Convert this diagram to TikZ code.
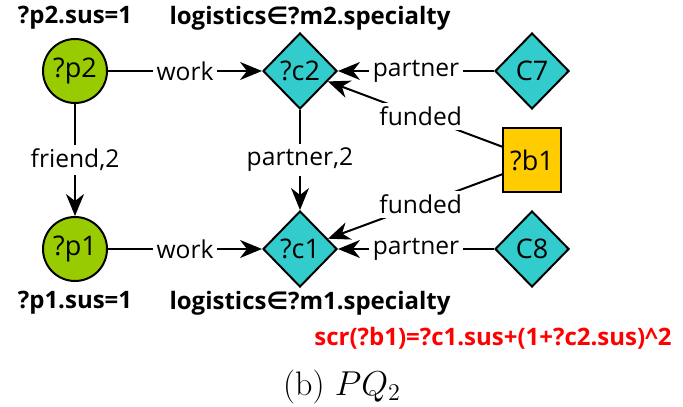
\documentclass[tikz,border=0pt]{standalone}
\usepackage{fontspec}
\setmainfont{Latin Modern Roman}
\newfontfamily\lblfont{Open Sans}
\newfontfamily\symfont{DejaVu Sans}
\usetikzlibrary{shapes.geometric,arrows.meta,calc}
\definecolor{persongreen}{HTML}{99CC00}
\definecolor{companycyan}{HTML}{33CCCC}
\definecolor{bankyellow}{HTML}{FFCC00}
\newcommand{\elem}{{\symfont\char"2208}}
\begin{document}
\begin{tikzpicture}[x=0.5pt,y=-0.5pt,
  base/.style={draw=black,line width=1pt,font=\lblfont\fontsize{13.5pt}{15pt}\selectfont,inner sep=0pt},
  person/.style={base,circle,fill=persongreen,minimum size=32pt},
  company/.style={base,diamond,fill=companycyan,minimum width=37pt,minimum height=38pt},
  bank/.style={base,rectangle,fill=bankyellow,minimum width=29pt,minimum height=32pt},
  edge/.style={line width=1pt,-{Stealth[length=11pt,width=9pt,inset=3.5pt]}},
  lbl/.style={fill=white,inner sep=2pt,font=\lblfont\fontsize{12.3pt}{14pt}\selectfont},
  attr/.style={font=\lblfont\bfseries\fontsize{12pt}{14pt}\selectfont,inner sep=0pt},
  score/.style={font=\lblfont\bfseries\fontsize{12pt}{14pt}\selectfont,text=red,inner sep=0pt}]
\useasboundingbox (0,0) rectangle (683,406);

% entities
\node[person] (p2) at (75,71) {?p2};
\node[person] (p1) at (75,249) {?p1};
\node[company] (c2) at (300,71) {?c2};
\node[company] (c1) at (300,249) {?c1};
\node[company] (c7) at (532,71) {C7};
\node[company] (c8) at (532,249) {C8};
\node[bank] (b1) at (532,160) {?b1};
\coordinate (b1up) at (503,147);
\coordinate (b1dn) at (503,174);

% relations
\draw[edge] (p2) -- node[lbl]{work} (c2);
\draw[edge] (p1) -- node[lbl]{work} (c1);
\draw[edge] (p2) -- node[lbl]{friend,2} (p1);
\draw[edge] (c2) -- node[lbl]{partner,2} (c1);
\draw[edge] (c7) -- node[lbl,pos=0.5]{partner} (c2);
\draw[edge] (c8) -- node[lbl,pos=0.5]{partner} (c1);
\draw[edge] (b1up) -- node[lbl,pos=0.47]{funded} (c2);
\draw[edge] (b1dn) -- node[lbl,pos=0.47]{funded} (c1);

% conditions
\node[attr] (a2) at (75,18) {?p2.sus=1};
\node[attr] (m2) at (310,18) {logistics\elem?m2.specialty};
\node[attr] (a1) at (75,303) {?p1.sus=1};
\node[attr] (m1) at (310,303) {logistics\elem?m1.specialty};
\node[score,anchor=east] (scr) at (672,338) {scr(?b1)=?c1.sus+(1+?c2.sus)\^{}2};
\node[font=\fontsize{17pt}{19pt}\selectfont,inner sep=0pt] (cap) at (342,387) {(b) $PQ_2$};
\end{tikzpicture}
\end{document}
